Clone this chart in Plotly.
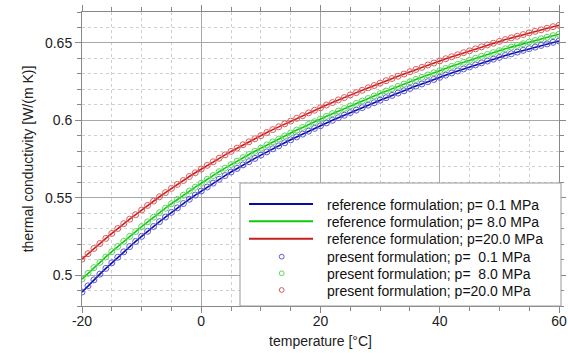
import plotly.graph_objects as go

temperature = list(range(-20, 61))

# thermal conductivity, W/(m K) (reference formulation curves)
ref_p01 = [
    0.4890, 0.4930, 0.4969, 0.5006, 0.5043, 0.5079, 0.5115, 0.5150, 0.5184, 0.5217,
    0.5250, 0.5283, 0.5314, 0.5345, 0.5375, 0.5405, 0.5434, 0.5462, 0.5490, 0.5517,
    0.5543, 0.5569, 0.5594, 0.5619, 0.5643, 0.5666, 0.5689, 0.5712, 0.5733, 0.5754,
    0.5775, 0.5796, 0.5816, 0.5835, 0.5855, 0.5874, 0.5893, 0.5911, 0.5930, 0.5948,
    0.5965, 0.5983, 0.6000, 0.6017, 0.6033, 0.6050, 0.6066, 0.6082, 0.6098, 0.6114,
    0.6130, 0.6146, 0.6161, 0.6176, 0.6191, 0.6206, 0.6221, 0.6235, 0.6250, 0.6264,
    0.6278, 0.6292, 0.6306, 0.6319, 0.6332, 0.6345, 0.6358, 0.6371, 0.6383, 0.6395,
    0.6407, 0.6419, 0.6430, 0.6441, 0.6452, 0.6463, 0.6473, 0.6484, 0.6494, 0.6504,
    0.6513,
]
ref_p80 = [
    0.4974, 0.5011, 0.5048, 0.5082, 0.5117, 0.5151, 0.5185, 0.5218, 0.5250, 0.5281,
    0.5313, 0.5344, 0.5374, 0.5403, 0.5432, 0.5461, 0.5489, 0.5516, 0.5543, 0.5568,
    0.5593, 0.5619, 0.5643, 0.5668, 0.5691, 0.5714, 0.5736, 0.5759, 0.5779, 0.5800,
    0.5820, 0.5841, 0.5861, 0.5879, 0.5899, 0.5918, 0.5937, 0.5954, 0.5973, 0.5991,
    0.6008, 0.6026, 0.6043, 0.6060, 0.6076, 0.6093, 0.6109, 0.6125, 0.6141, 0.6157,
    0.6173, 0.6189, 0.6204, 0.6219, 0.6234, 0.6249, 0.6264, 0.6278, 0.6293, 0.6307,
    0.6321, 0.6335, 0.6349, 0.6362, 0.6375, 0.6388, 0.6401, 0.6414, 0.6426, 0.6438,
    0.6450, 0.6462, 0.6473, 0.6484, 0.6495, 0.6506, 0.6516, 0.6527, 0.6537, 0.6547,
    0.6556,
]
ref_p200 = [
    0.5103, 0.5138, 0.5172, 0.5204, 0.5237, 0.5269, 0.5301, 0.5332, 0.5361, 0.5390,
    0.5420, 0.5450, 0.5478, 0.5506, 0.5533, 0.5560, 0.5586, 0.5611, 0.5637, 0.5661,
    0.5685, 0.5709, 0.5732, 0.5755, 0.5777, 0.5799, 0.5820, 0.5842, 0.5861, 0.5881,
    0.5901, 0.5921, 0.5940, 0.5958, 0.5977, 0.5995, 0.6013, 0.6030, 0.6048, 0.6065,
    0.6081, 0.6099, 0.6115, 0.6132, 0.6147, 0.6164, 0.6179, 0.6194, 0.6210, 0.6225,
    0.6240, 0.6256, 0.6270, 0.6285, 0.6299, 0.6314, 0.6329, 0.6342, 0.6357, 0.6370,
    0.6384, 0.6398, 0.6411, 0.6424, 0.6437, 0.6449, 0.6462, 0.6475, 0.6487, 0.6498,
    0.6510, 0.6522, 0.6533, 0.6543, 0.6554, 0.6565, 0.6575, 0.6585, 0.6595, 0.6605,
    0.6614,
]
# present formulation points coincide with the reference curves at chart resolution
pres_p01 = list(ref_p01)
pres_p80 = list(ref_p80)
pres_p200 = list(ref_p200)

x_tickvals = [-20, 0, 20, 40, 60]
x_ticktext = ["-20", "0", "20", "40", "60"]

ref_names = ["reference formulation; p= 0.1 MPa",
             "reference formulation; p= 8.0 MPa",
             "reference formulation; p=20.0 MPa"]
pres_names = ["present formulation; p=\u00a0 0.1 MPa",
              "present formulation; p=\u00a0 8.0 MPa",
              "present formulation; p=20.0 MPa"]

line_colors = ["#0a0aa8", "#10c810", "#c81e1e"]
marker_colors = ["#5a5ad8", "#5ad85a", "#e05a5a"]

FONT = "Arial, Liberation Sans, sans-serif"
W, H = 568, 353
ML, MR, MT, MB = 82, 9, 12, 47
PW, PH = W - ML - MR, H - MT - MB


def px(x):
    return (x - ML) / PW


def py(y):
    return (H - MB - y) / PH


fig = go.Figure()
for ys, name, col in zip([ref_p01, ref_p80, ref_p200], ref_names, line_colors):
    fig.add_trace(go.Scatter(x=temperature, y=ys, mode="lines", name=name,
                             line=dict(color=col, width=1.6)))
for ys, name, col in zip([pres_p01, pres_p80, pres_p200], pres_names, marker_colors):
    fig.add_trace(go.Scatter(x=temperature, y=ys, mode="markers", name=name,
                             marker=dict(symbol="circle-open", size=6,
                                         color=col, line=dict(width=1, color=col))))

# legend drawn by hand (box, samples, labels)
shapes = [dict(type="rect", xref="paper", yref="paper", layer="above",
               x0=px(240), x1=px(561), y0=py(306), y1=py(183),
               fillcolor="white", line=dict(color="#999", width=1))]
annotations = []
row_y = [204, 221.3, 238.7, 256.7, 273.3, 290]
for i, (name, col) in enumerate(zip(ref_names, line_colors)):
    shapes.append(dict(type="line", xref="paper", yref="paper", layer="above",
                       x0=px(249), x1=px(313), y0=py(row_y[i]), y1=py(row_y[i]),
                       line=dict(color=col, width=2)))
for i, (name, col) in enumerate(zip(pres_names, marker_colors)):
    r = 2.4
    yc = row_y[3 + i]
    shapes.append(dict(type="circle", xref="paper", yref="paper", layer="above",
                       x0=px(281.7 - r), x1=px(281.7 + r), y0=py(yc + r), y1=py(yc - r),
                       line=dict(color=col, width=1)))
for i, name in enumerate(ref_names + pres_names):
    annotations.append(dict(text=name, xref="paper", yref="paper",
                            x=px(325), y=py(row_y[i] + 0.5), xanchor="left", yanchor="middle",
                            showarrow=False, font=dict(size=14, color="#111")))

fig.update_layout(
    width=W, height=H,
    margin=dict(l=ML, r=MR, t=MT, b=MB),
    paper_bgcolor="white", plot_bgcolor="white",
    font=dict(family=FONT, size=14, color="#222"),
    showlegend=False,
    shapes=shapes, annotations=annotations,
)
fig.update_xaxes(
    range=[-20, 60], tickmode="array", tickvals=x_tickvals, ticktext=x_ticktext,
    automargin=False,
    showline=True, linecolor="#888", linewidth=1, mirror="ticks",
    ticks="outside", ticklen=6, tickcolor="#888", ticklabelstandoff=-4,
    showgrid=True, gridcolor="#a8a8a8", gridwidth=1, zeroline=False,
    minor=dict(tickmode="linear", dtick=5, tick0=-20, ticks="outside", ticklen=4,
               tickcolor="#888", showgrid=True, gridcolor="#cfcfcf", griddash="dot",
               gridwidth=1),
    title=dict(text="temperature [°C]", font=dict(size=14), standoff=8),
    tickfont=dict(size=14),
)
fig.update_yaxes(
    range=[0.48, 0.67], tick0=0.5, dtick=0.05, automargin=False,
    showline=True, linecolor="#888", linewidth=1, mirror="ticks",
    ticks="outside", ticklen=6, tickcolor="#888",
    showgrid=True, gridcolor="#a8a8a8", gridwidth=1, zeroline=False,
    minor=dict(dtick=0.01, tick0=0.48, ticks="outside", ticklen=4, tickcolor="#888",
               showgrid=True, gridcolor="#cfcfcf", griddash="dot", gridwidth=1),
    title=dict(text="thermal conductivity [W/(m K)]", font=dict(size=14), standoff=8),
    tickfont=dict(size=14),
)

fig.write_html("out.html", config={"displayModeBar": False},
               post_script="document.body.style.margin='0';document.body.style.padding='0';")
